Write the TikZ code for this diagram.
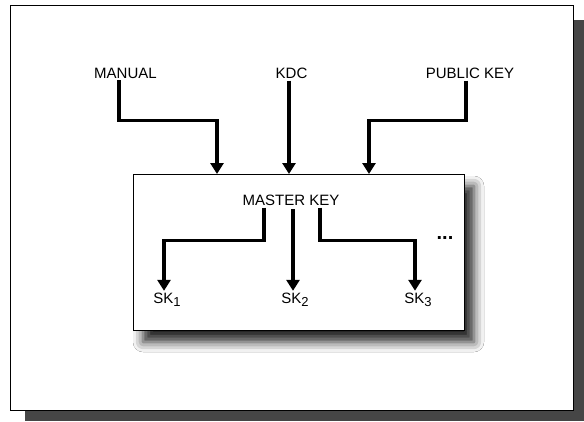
\documentclass[tikz,border=0pt]{standalone}
\usepackage{fontspec}
\setmainfont{Liberation Sans}
\usepackage{tikz}
\usetikzlibrary{arrows.meta, positioning, shadows.blur, calc}
\definecolor{framedark}{RGB}{70,70,70}
\newcommand{\sksub}[1]{SK\raisebox{-3.5pt}{\fontsize{13}{13}\selectfont #1}}

\begin{document}
\begin{tikzpicture}[
  x=1pt, y=-1pt,
  lbl/.style   = {inner sep=2pt, font=\fontsize{15}{17}\selectfont},
  keybox/.style = {rectangle, draw=black, line width=0.6pt, fill=white,
                  blur shadow={shadow xshift=10pt, shadow yshift=-12pt,
                  shadow blur radius=10pt, shadow opacity=85}},
  arr/.style   = {-{Triangle[length=11pt, width=13pt]}, line width=3.2pt},
]
  \useasboundingbox (0,0) rectangle (584,421);
  % outer frame with dark edge
  \fill[framedark] (573,20) rectangle (584,421);
  \fill[framedark] (25,410) rectangle (584,421);
  \draw[line width=0.6pt, fill=white] (10,5) rectangle (573,410);

  % inner box
  \node[keybox, minimum width=331pt, minimum height=156pt] (box) at (298.5,252) {};

  \node[lbl] (manual) at (125.5,73) {MANUAL};
  \node[lbl] (kdc)    at (291.5,73) {KDC};
  \node[lbl] (pub)    at (470,73)   {PUBLIC KEY};
  \node[lbl] (mk)     at (291,200)  {MASTER KEY};

  \node[lbl] (sk1) at (167,300) {\sksub{1}};
  \node[lbl] (sk2) at (295,300) {\sksub{2}};
  \node[lbl] (sk3) at (418,300) {\sksub{3}};
  \node[lbl, font=\bfseries\fontsize{20}{20}\selectfont] (dots) at (445,238) {...};

  \coordinate (in1) at (217,174);
  \coordinate (in2) at (289,174);
  \coordinate (in3) at (369,174);
  \coordinate (m2)  at (293,209);

  \draw[arr] ([xshift=-6.5pt]manual.south) -- ++(0,40) -| (in1);
  \draw[arr] (kdc.south -| in2) -- (in2);
  \draw[arr] ([xshift=-4pt]pub.south) -- ++(0,40) -| (in3);

  \draw[arr] ([xshift=-27pt]mk.south) -- ++(0,33) -| ([xshift=-3pt]sk1.north);
  \draw[arr] (m2) -- (m2 |- sk2.north);
  \draw[arr] ([xshift=29pt]mk.south) -- ++(0,33) -| ([xshift=-3pt]sk3.north);
\end{tikzpicture}
\end{document}
